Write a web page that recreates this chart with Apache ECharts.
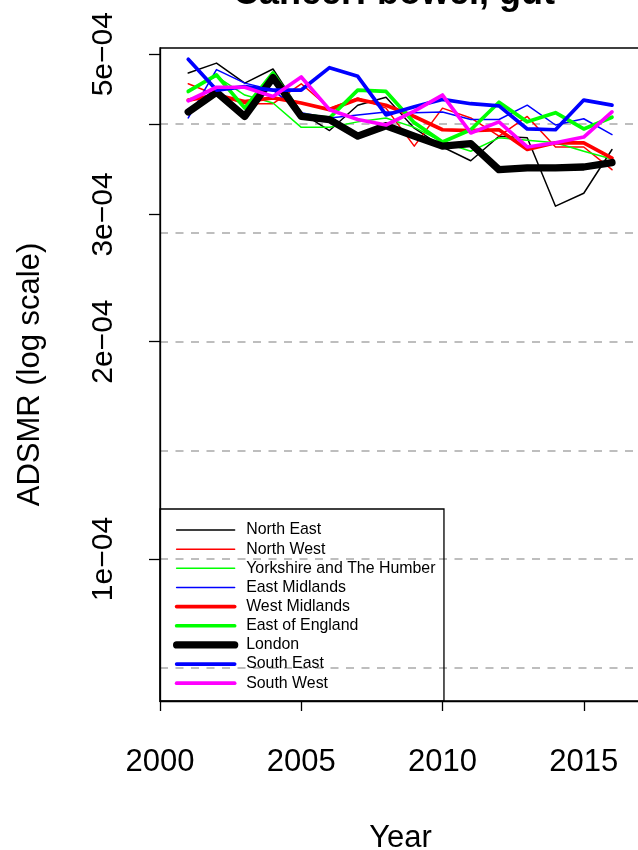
<!DOCTYPE html>
<html>
<head>
<meta charset="utf-8">
<title>Cancer: bowel, gut</title>
<script src="https://cdn.jsdelivr.net/npm/echarts@6/dist/echarts.min.js"></script>
<style>
  html, body { margin: 0; padding: 0; background: #fff; }
  #chart { width: 638px; height: 850px; }
</style>
</head>
<body>
<div id="chart"></div>
<script>
  // ADSMR by region (log scale)
  var years = [2001, 2002, 2003, 2004, 2005, 2006, 2007, 2008, 2009, 2010, 2011, 2012, 2013, 2014, 2015, 2016]

  var northEast = [4.71e-4, 4.86e-4, 4.56e-4, 4.77e-4, 4.15e-4, 3.92e-4, 4.25e-4, 4.36e-4, 3.95e-4, 3.72e-4, 3.56e-4, 3.85e-4, 3.83e-4, 3.08e-4, 3.21e-4, 3.69e-4]
  var northWest = [4.55e-4, 4.39e-4, 4.27e-4, 4.27e-4, 4.55e-4, 4.21e-4, 4.35e-4, 4.21e-4, 3.73e-4, 4.21e-4, 4.08e-4, 3.85e-4, 4.10e-4, 3.72e-4, 3.72e-4, 3.46e-4]
  var yorkshire = [4.46e-4, 4.66e-4, 4.39e-4, 4.28e-4, 3.96e-4, 3.96e-4, 4.03e-4, 4.08e-4, 3.96e-4, 3.78e-4, 3.67e-4, 3.83e-4, 3.80e-4, 3.77e-4, 3.67e-4, 3.58e-4]
  var eastMidlands = [4.08e-4, 4.76e-4, 4.56e-4, 4.46e-4, 4.15e-4, 4.08e-4, 4.12e-4, 4.16e-4, 4.15e-4, 4.16e-4, 4.06e-4, 4.06e-4, 4.25e-4, 3.99e-4, 4.07e-4, 3.87e-4]
  var westMidlands = [4.32e-4, 4.39e-4, 4.30e-4, 4.35e-4, 4.28e-4, 4.19e-4, 4.33e-4, 4.25e-4, 4.10e-4, 3.93e-4, 3.92e-4, 3.93e-4, 3.69e-4, 3.77e-4, 3.77e-4, 3.59e-4]
  var eastEngland = [4.44e-4, 4.68e-4, 4.21e-4, 4.71e-4, 4.12e-4, 4.08e-4, 4.46e-4, 4.44e-4, 4.02e-4, 3.78e-4, 3.93e-4, 4.29e-4, 4.03e-4, 4.15e-4, 3.94e-4, 4.09e-4]
  var london = [4.16e-4, 4.43e-4, 4.10e-4, 4.64e-4, 4.10e-4, 4.06e-4, 3.85e-4, 3.98e-4, 3.85e-4, 3.73e-4, 3.76e-4, 3.46e-4, 3.48e-4, 3.48e-4, 3.49e-4, 3.54e-4]
  var southEast = [4.92e-4, 4.46e-4, 4.51e-4, 4.46e-4, 4.46e-4, 4.79e-4, 4.66e-4, 4.12e-4, 4.23e-4, 4.33e-4, 4.27e-4, 4.24e-4, 3.94e-4, 3.93e-4, 4.32e-4, 4.25e-4]
  var southWest = [4.31e-4, 4.50e-4, 4.50e-4, 4.37e-4, 4.65e-4, 4.19e-4, 4.06e-4, 3.99e-4, 4.17e-4, 4.39e-4, 3.89e-4, 4.03e-4, 3.72e-4, 3.77e-4, 3.84e-4, 4.16e-4]

  // axis ticks / labels / dashed reference lines
  var yTickValues = [1e-4, 2e-4, 3e-4, 4e-4, 5e-4]
  var yLabelValues = [1e-4, 2e-4, 3e-4, 5e-4]
  var gridValues = [0.7071e-4, 1e-4, 1.4142e-4, 2e-4, 2.8284e-4, 4e-4]

  var FONT = 'Liberation Sans'
  var Y_MIN = 6.36e-5
  var Y_MAX = 5.10e-4

  var regions = [
    { name: 'North East', data: northEast, color: '#000000', width: 1.5 },
    { name: 'North West', data: northWest, color: '#ff0000', width: 1.5 },
    { name: 'Yorkshire and The Humber', data: yorkshire, color: '#00ff00', width: 1.5 },
    { name: 'East Midlands', data: eastMidlands, color: '#0000ff', width: 1.5 },
    { name: 'West Midlands', data: westMidlands, color: '#ff0000', width: 3.7 },
    { name: 'East of England', data: eastEngland, color: '#00ff00', width: 3.7 },
    { name: 'London', data: london, color: '#000000', width: 7.3 },
    { name: 'South East', data: southEast, color: '#0000ff', width: 3.7 },
    { name: 'South West', data: southWest, color: '#ff00ff', width: 3.7 }
  ]

  var series = regions.map(function (r) {
    return {
      name: r.name,
      type: 'line',
      yAxisIndex: 0,
      symbol: 'none',
      data: years.map(function (y, i) { return [y, r.data[i]] }),
      lineStyle: { color: r.color, width: r.width, cap: 'round', join: 'round' },
      itemStyle: { color: r.color }
    }
  })

  var chart = echarts.init(document.getElementById('chart'))
  chart.setOption({
    animation: false,
    textStyle: { fontFamily: FONT },
    title: {
      text: 'Cancer: bowel, gut',
      left: 228,
      top: -29,
      textStyle: { fontFamily: FONT, fontSize: 36, fontWeight: 'bold', color: '#000' }
    },
    grid: {
      left: 160,
      top: 48,
      width: 565,
      height: 653,
      outerBoundsMode: 'none',
      containLabel: false,
      show: true,
      borderColor: '#000',
      borderWidth: 1.3,
      backgroundColor: 'transparent'
    },
    legend: {
      orient: 'vertical',
      left: 160,
      top: 509,
      selectedMode: false,
      data: regions.map(function (r) { return r.name }),
      itemWidth: 58,
      itemHeight: 14,
      itemGap: 3.15,
      padding: [13, 8.5, 10, 13],
      borderColor: '#000',
      borderWidth: 1.3,
      borderRadius: 0,
      itemStyle: { opacity: 0 },
      lineStyle: { width: 'inherit', cap: 'round' },
      textStyle: { fontFamily: FONT, fontSize: 15.9, color: '#000', lineHeight: 14, padding: [0, 0, 0, 6.5] }
    },
    xAxis: {
      type: 'value',
      min: 2000,
      max: 2020,
      interval: 5,
      name: 'Year',
      nameLocation: 'middle',
      nameGap: 122,
      // padding on the right pulls the centred name left, as in the original
      nameTextStyle: { fontFamily: FONT, fontSize: 31, color: '#000', padding: [0, 84, 0, 0] },
      axisLine: { lineStyle: { color: '#000', width: 1.3 } },
      axisTick: { length: 10, lineStyle: { color: '#000', width: 1.3 } },
      axisLabel: {
        fontFamily: FONT, fontSize: 31, color: '#000', margin: 46,
        formatter: function (v) { return String(v) }
      },
      splitLine: { show: false }
    },
    yAxis: [{
      type: 'log',
      logBase: 10,
      min: Y_MIN,
      max: Y_MAX,
      name: 'ADSMR (log scale)',
      nameLocation: 'middle',
      nameRotate: 90,
      nameGap: 114,
      nameTextStyle: { fontFamily: FONT, fontSize: 31, color: '#000' },
      axisLine: { show: true, lineStyle: { color: '#000', width: 1.3 } },
      axisTick: { show: true, length: 11, customValues: yTickValues, lineStyle: { color: '#000', width: 1.3 } },
      axisLabel: {
        customValues: yLabelValues,
        rotate: 90,
        margin: 41,
        fontFamily: FONT,
        fontSize: 30,
        color: '#000',
        formatter: function (v) { return Math.round(v * 1e4) + 'e\u221204' }
      },
      splitLine: { show: false },
      minorTick: { show: false }
    }, {
      // same scale, only used for the dashed guide lines
      type: 'log',
      logBase: 10,
      min: Y_MIN,
      max: Y_MAX,
      position: 'left',
      axisLine: { show: false },
      axisTick: { show: false, customValues: gridValues },
      axisLabel: { show: false, customValues: gridValues },
      splitLine: { show: true, lineStyle: { color: '#bebebe', type: [8, 7.5], width: 2 } },
      minorTick: { show: false }
    }],
    series: series
  })
</script>
</body>
</html>
